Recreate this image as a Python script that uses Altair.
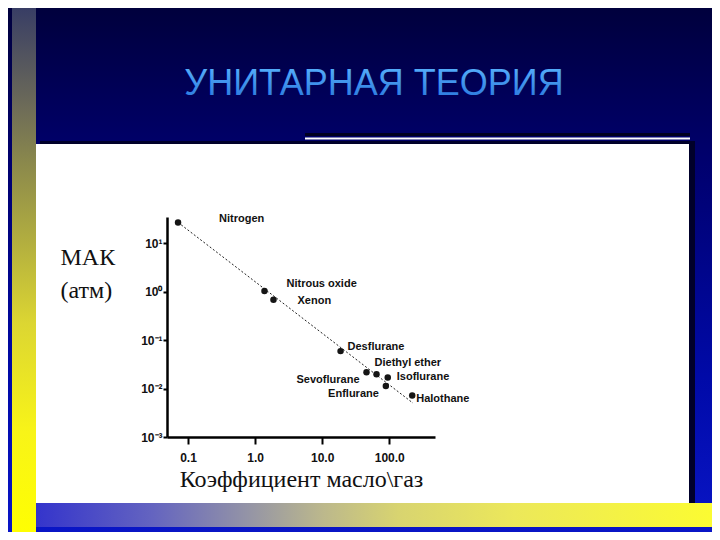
import altair as alt
import pandas as pd

# ---- data ----
names = ["Nitrogen", "Nitrous oxide", "Xenon", "Desflurane", "Sevoflurane",
         "Diethyl ether", "Isoflurane", "Enflurane", "Halothane"]
oil_gas = [0.071, 1.38, 1.88, 18.8, 45.8, 64.6, 95.0, 89.0, 220.0]
mac_atm = [26.6, 1.03, 0.68, 0.059, 0.0216, 0.0196, 0.0169, 0.0113, 0.0072]

fit_x = [0.071, 226.0]
fit_y = [26.6, 0.005]

x_ticks = [0.1, 1, 10, 100]
y_ticks = [0.001, 0.01, 0.1, 1, 10]

title_text = "УНИТАРНАЯ ТЕОРИЯ"
x_title = "Коэффициент масло\\газ"
y_title = ["МАК", "(атм)"]

pts = pd.DataFrame({"name": names, "oil_gas": oil_gas, "mac": mac_atm})
fit = pd.DataFrame({"oil_gas": fit_x, "mac": fit_y})

# ---- styles ----
SANS = "Liberation Sans, Arial, sans-serif"
SERIF = "Liberation Serif, Times New Roman, serif"
W, H = 268, 220

label_style = {
    "Nitrogen": ("left", 41, -3),
    "Nitrous oxide": ("left", 22, -7),
    "Xenon": ("left", 24, 1),
    "Desflurane": ("left", 7, -4),
    "Diethyl ether": ("left", -2, -11),
    "Isoflurane": ("left", 9, 0),
    "Sevoflurane": ("right", -7, 8),
    "Enflurane": ("right", -7, 8),
    "Halothane": ("left", 4, 4),
}

x_enc = alt.X("oil_gas:Q",
              scale=alt.Scale(type="log", domain=[0.0486, 481], nice=False, zero=False),
              axis=alt.Axis(values=x_ticks, format=".1f", title=x_title,
                            grid=False, domainColor="black", domainWidth=2.5,
                            tickColor="black", tickWidth=2, tickSize=7,
                            labelFont=SANS, labelFontSize=12, labelFontWeight="bold",
                            labelColor="#111", labelPadding=8, labelFlush=False,
                            titleFont=SERIF, titleFontSize=24, titleFontWeight="normal",
                            titleColor="#111", titleY=49, titleBaseline="alphabetic",
                            zindex=1))
y_enc = alt.Y("mac:Q",
              scale=alt.Scale(type="log", domain=[0.001, 34.4], nice=False, zero=False),
              axis=alt.Axis(values=y_ticks,
                            labelExpr="'10' + (['⁻³','⁻²','⁻¹','⁰','¹'])[round(log(datum.value)/LN10) + 3]",
                            title=y_title, grid=False, domainColor="black", domainWidth=2.5,
                            tickColor="black", tickWidth=2, tickSize=4,
                            labelFont=SANS, labelFontSize=12, labelFontWeight="bold",
                            labelColor="#111", labelPadding=1, labelFlush=False,
                            labelOverlap=False,
                            titleFont=SERIF, titleFontSize=24, titleFontWeight="normal",
                            titleColor="#111", titleAngle=0, titleAlign="left",
                            titleBaseline="alphabetic", titleX=-107, titleY=47,
                            titleLineHeight=33, zindex=1))

one = alt.Data(values=[{"k": 1}])


def px(v):  # page x -> plot-relative x
    return v - 167


def py(v):  # page y -> plot-relative y
    return v - 217


def deco_rect(x0, x1, y0, y1, color):
    return alt.Chart(one).mark_rect(color=color, opacity=1).encode(
        x=alt.value(px(x0)), x2=alt.value(px(x1)),
        y=alt.value(py(y0)), y2=alt.value(py(y1)))


def grad(stops, horizontal=False):
    return alt.Gradient(
        gradient="linear",
        stops=[alt.GradientStop(offset=o, color=c) for o, c in stops],
        x1=0, y1=0, x2=1 if horizontal else 0, y2=0 if horizontal else 1)


bg = deco_rect(0, 720, 0, 540, grad([(0, "#00003a"), (0.3, "#00006e"),
                                       (0.7, "#000aa8"), (1, "#0a16c8")]))
stripe = deco_rect(12, 36, 0, 540, grad([(0, "#343a66"), (0.2, "#6e6c58"),
                                          (0.3, "#8a884c"), (0.6, "#dcd632"),
                                          (0.8, "#f8f418"), (1, "#ffff00")]))
bottom_bar = deco_rect(36, 720, 503, 527, grad([(0, "#3434cc"), (0.17, "#6464c0"),
                                                 (0.31, "#9494a6"), (0.42, "#bcb88c"),
                                                 (0.53, "#d8d470"), (0.7, "#ece85a"),
                                                 (1, "#fcfc30")], horizontal=True))
box_shadow = deco_rect(40, 695, 141, 503, "#00002a")
white_box = deco_rect(36, 689, 144, 503, "#ffffff")
line_shadow = deco_rect(305, 690, 133, 136, "#000020")
white_line = deco_rect(305, 690, 137.5, 139.5, "#ffffff")

title = alt.Chart(one).mark_text(
    font=SANS, fontSize=36, align="center", baseline="alphabetic",
    color=alt.Gradient(gradient="linear",
                       stops=[alt.GradientStop(offset=0, color="#5cb6ff"),
                              alt.GradientStop(offset=1, color="#2672da")],
                       x1=0, y1=0, x2=0, y2=1)
).encode(x=alt.value(px(374)), y=alt.value(py(95)), text=alt.value(title_text))

fit_line = alt.Chart(fit).mark_line(color="#222", strokeWidth=1, strokeDash=[2, 2]).encode(
    x=x_enc, y=y_enc)
points = alt.Chart(pts).mark_circle(size=42, color="#151515", opacity=1).encode(
    x=x_enc, y=y_enc)

labels = []
for n in names:
    a, dx, dy = label_style[n]
    labels.append(
        alt.Chart(pts).transform_filter(alt.datum.name == n).mark_text(
            align=a, baseline="middle", dx=dx, dy=dy, font=SANS, fontSize=11,
            fontWeight="bold", color="#111"
        ).encode(x=x_enc, y=y_enc, text="name:N"))

chart = alt.layer(
    bg, stripe, bottom_bar, box_shadow, white_box, line_shadow, white_line,
    title, fit_line, points, *labels
).properties(
    width=W, height=H,
    padding={"left": 159, "top": 209, "right": 277, "bottom": 95},
    autosize="none",
).configure_view(stroke=None).configure(background="#00003a")

chart.save("out.html", embed_options={"renderer": "svg", "actions": False})
